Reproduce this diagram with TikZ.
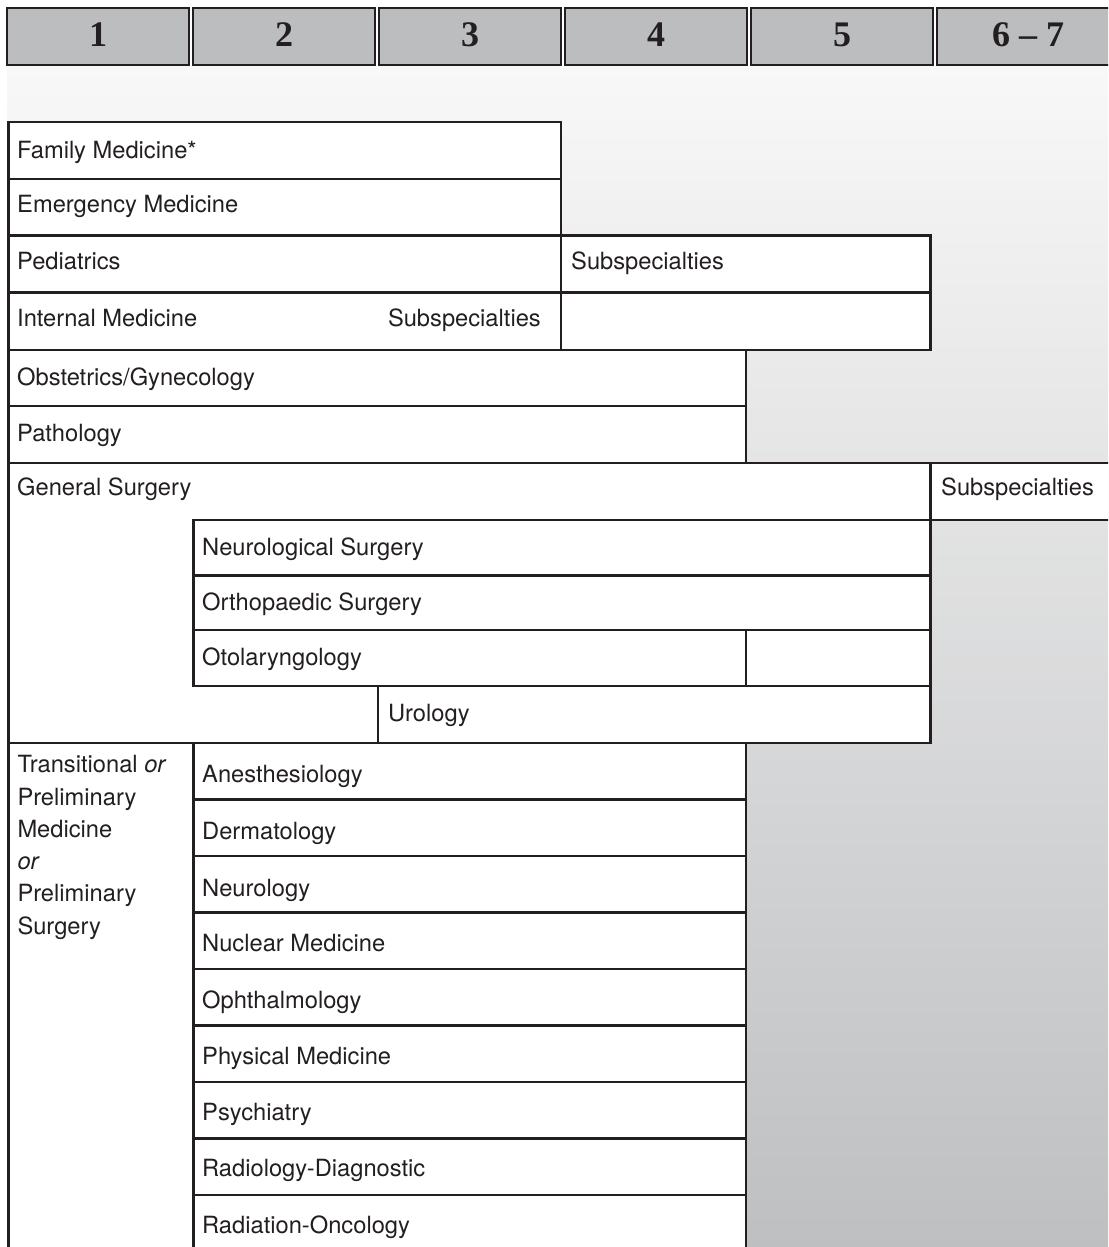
\documentclass[tikz,border=0pt]{standalone}
\usepackage{fontspec}
\setmainfont{TeX Gyre Heros}
\newfontfamily\hdfont{Liberation Serif}
\definecolor{ink}{HTML}{231F20}
\definecolor{hdfill}{HTML}{BCBDBF}
\definecolor{gtop}{HTML}{F8F8F8}
\definecolor{gbot}{HTML}{BEBFC1}
\tikzset{
  box/.style={draw=ink, line width=2.4pt, fill=white},
  hdbox/.style={draw=ink, line width=2.6pt, fill=hdfill},
  lbl/.style={anchor=base west, inner sep=0pt, text=ink, font=\fontsize{23.7}{28}\selectfont},
  lblr/.style={lbl, anchor=base east},
  hdlbl/.style={anchor=base, inner sep=0pt, text=ink, font=\hdfont\bfseries\fontsize{36}{36}\selectfont}
}
\begin{document}
\begin{tikzpicture}[x=1pt,y=-1pt]
\useasboundingbox (0,0) rectangle (1108,1247);
\clip (0,0) rectangle (1108,1247);
\fill[white] (0,0) rectangle (1108,1247);
% background gradient
\shade[top color=gtop, bottom color=gbot] (7,66) rectangle (1110,1250);

% header
\foreach \k/\t in {0/1,1/2,2/3,3/4,4/5,5/{6 – 7}}{
  \draw[hdbox] ({7+186*\k},8) rectangle ({189+186*\k},65);
  \node[hdlbl] (h\k) at ({98+186*\k},47) {\t};
}

% upper block
\draw[box] (8.5,122) rectangle (561,179);
\node[lbl] (fm) at (17,158) {Family Medicine*};
\draw[box] (8.5,179) rectangle (561,235.5);
\node[lbl] (em) at (17,212) {Emergency Medicine};
\draw[box] (8.5,235.5) rectangle (561,292.5);
\node[lbl] (ped) at (17,269.5) {Pediatrics};
\draw[box] (561,235.5) rectangle (930.5,292.5);
\node[lbl] (pedsub) at (571,269.5) {Subspecialties};
\draw[box] (8.5,292.5) rectangle (561,350);
\node[lbl] (im) at (17,326) {Internal Medicine};
\node[lblr] (imsub) at (541,326) {Subspecialties};
\draw[box] (561,292.5) rectangle (930.5,350);
\draw[box] (8.5,350) rectangle (746,406);
\node[lbl] (ob) at (17,385) {Obstetrics/Gynecology};
\draw[box] (8.5,406) rectangle (746,463);
\node[lbl] (path) at (17,441) {Pathology};

% general surgery block
\draw[box] (8.5,463) rectangle (930.5,743);
\node[lbl] (gs) at (17,495) {General Surgery};
\draw[box] (930.5,463) rectangle (1120,520);
\node[lbl] (gssub) at (941,495) {Subspecialties};
\draw[box] (193.5,520) rectangle (930.5,575.5);
\node[lbl] (ns) at (202,555) {Neurological Surgery};
\draw[box] (193.5,575.5) rectangle (930.5,630);
\node[lbl] (os) at (202,610.5) {Orthopaedic Surgery};
\draw[box] (193.5,630) rectangle (746,686);
\node[lbl] (oto) at (202,665.5) {Otolaryngology};
\draw[box] (746,630) rectangle (930.5,686);
\draw[box] (378,686) rectangle (930.5,743);
\node[lbl] (uro) at (388,721.5) {Urology};

% lower block
\draw[box] (8.5,743) rectangle (193.5,1265);
\node[lbl] (trans) at (17.3,772.7) {\vtop{\baselineskip=32.3pt
  \hbox{Transitional \textit{or}}\hbox{Preliminary}\hbox{Medicine}\hbox{\textit{or}}\hbox{Preliminary}\hbox{Surgery}}};
\foreach \i/\t/\b in {0/Anesthesiology/782.5, 1/Dermatology/839.5, 2/Neurology/896,
  3/Nuclear Medicine/951.7, 4/Ophthalmology/1008, 5/Physical Medicine/1064,
  6/Psychiatry/1120, 7/Radiology-Diagnostic/1176.5, 8/Radiation-Oncology/1233.5}{
  \pgfmathsetmacro{\top}{743+56.5*\i}
  \draw[box] (193.5,\top) rectangle (746,{\top+56.5+(\i==8)*40});
  \node[lbl] (low\i) at (202,\b) {\t};
}
\end{tikzpicture}
\end{document}
